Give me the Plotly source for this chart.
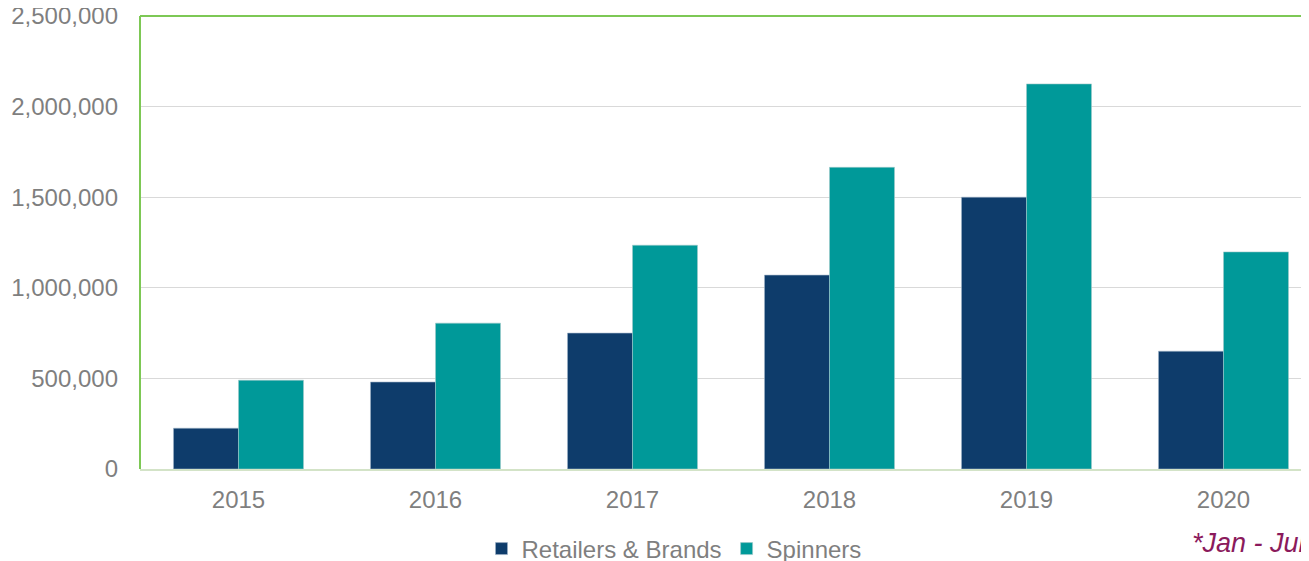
import plotly.graph_objects as go

years = ["2015", "2016", "2017", "2018", "2019", "2020"]
retailers = [225000, 480000, 750000, 1070000, 1500000, 650000]
spinners = [490000, 805000, 1235000, 1665000, 2125000, 1198000]

# page body has an 8px default margin; compensate
OFF = 8
W, H = 1309 - OFF, 561 - OFF
L, T, B = 140 - OFF, 16 - OFF, 92
PH = H - T - B
PW = W - L

fig = go.Figure()
fig.add_trace(go.Bar(x=years, y=retailers, name="Retailers & Brands",
                     marker=dict(color="#0E3C6B", line=dict(color="#9FB3C8", width=0.6))))
fig.add_trace(go.Bar(x=years, y=spinners, name="Spinners",
                     marker=dict(color="#009999", line=dict(color="#9FC9C9", width=0.6))))

span = PW / 197.0
FS = 24
fig.update_layout(
    width=W, height=H,
    margin=dict(l=L, r=0, t=T, b=B, autoexpand=False),
    plot_bgcolor="white", paper_bgcolor="white",
    barmode="group", bargap=0.34, bargroupgap=0,
    font=dict(family="Liberation Sans, Arial, sans-serif", size=FS, color="#7F7F7F"),
    showlegend=True,
    legend=dict(orientation="h", x=(674 - 140) / PW, xanchor="center",
                y=(461 - 541) / PH, yanchor="middle",
                font=dict(size=FS, color="#7F7F7F"), itemwidth=30, traceorder="normal"),
    xaxis=dict(range=[-0.5, -0.5 + span], showgrid=False, showline=True,
               linecolor="#D3E3C7", linewidth=2, ticks="", tickfont=dict(size=FS, color="#7F7F7F"),
               ticklabelstandoff=8),
    yaxis=dict(range=[0, 2500000], dtick=500000, tickformat=",", showgrid=True,
               gridcolor="#D9D9D9", gridwidth=1.3, zeroline=False, showline=False,
               ticks="", ticklabelstandoff=21, ticklabeloverflow="allow",
               tickfont=dict(size=FS, color="#7F7F7F")),
)
fig.add_shape(type="line", xref="paper", yref="paper", x0=0, x1=1, y0=1, y1=1,
              line=dict(color="#7DC855", width=2))
fig.add_shape(type="line", xref="paper", yref="paper", x0=0, x1=0, y0=0, y1=1,
              line=dict(color="#7DC855", width=2))
fig.add_annotation(text="<i>*Jan - Jun</i>", xref="paper", yref="paper",
                   x=(1190 - 140) / PW, xanchor="left", y=(461 - 535) / PH, yanchor="middle",
                   showarrow=False, font=dict(size=27, color="#8B1A5C"))

fig.write_html("out.html")
